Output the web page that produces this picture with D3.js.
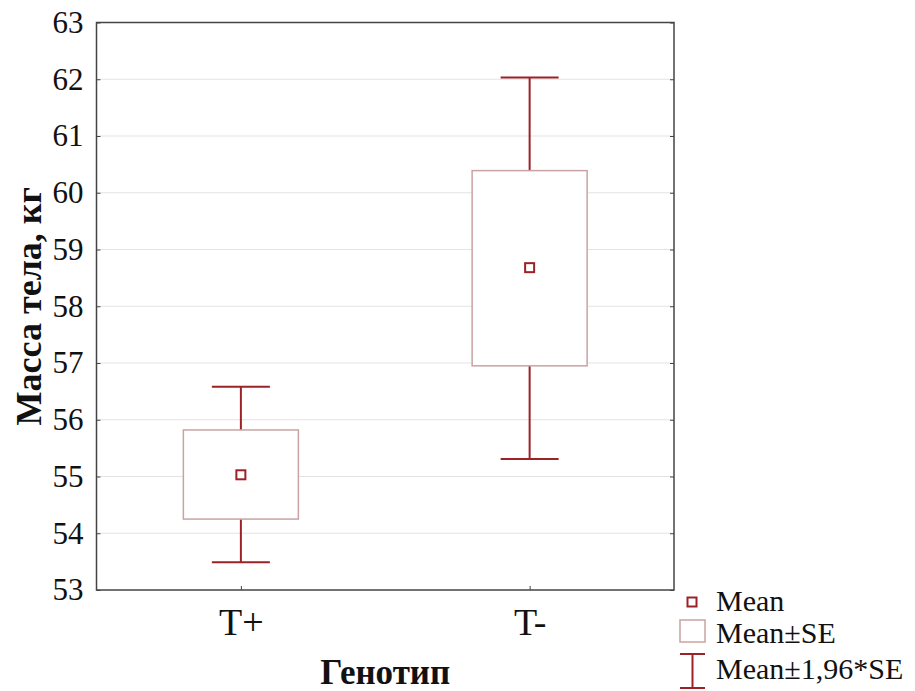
<!DOCTYPE html>
<html>
<head>
<meta charset="utf-8">
<title>Масса тела по генотипу</title>
<script src="https://cdnjs.cloudflare.com/ajax/libs/d3/7.8.5/d3.min.js"></script>
<style>
  html, body { margin: 0; padding: 0; background: #fff; }
  text { font-family: "Liberation Serif", "Times New Roman", serif; fill: #111; }
</style>
</head>
<body>
<div id="chart"></div>
<script>
// data
const groups = ["T+", "T-"];
const means = [55.03, 58.68];
const seLow = [54.25, 56.95];
const seHigh = [55.82, 60.39];
const ciLow = [53.49, 55.31];
const ciHigh = [56.58, 62.03];
const yTicks = [53, 54, 55, 56, 57, 58, 59, 60, 61, 62, 63];
const legendLabels = ["Mean", "Mean±SE", "Mean±1,96*SE"];

const W = 915, H = 691;
const plot = {left: 96.5, right: 674, top: 22.5, bottom: 590};
const dark = "#9b2226", boxStroke = "#c9a3a3", frame = "#444";

const svg = d3.select("#chart").append("svg")
  .attr("width", W).attr("height", H);

const x = d3.scalePoint().domain(groups)
  .range([plot.left, plot.right]).padding(0.5);
const y = d3.scaleLinear().domain([53, 63])
  .range([plot.bottom, plot.top]);

// grid lines
svg.append("g").selectAll("line")
  .data(yTicks.slice(1, -1))
  .join("line")
    .attr("x1", plot.left).attr("x2", plot.right)
    .attr("y1", d => y(d)).attr("y2", d => y(d))
    .attr("stroke", "#e3e3e3").attr("stroke-width", 1);

// left axis: inward ticks
const yAxis = svg.append("g")
  .attr("transform", `translate(${plot.left},0)`)
  .call(d3.axisLeft(y).tickValues(yTicks).tickSize(-4).tickPadding(13));
yAxis.select(".domain").remove();
yAxis.selectAll("line").attr("stroke", frame);
yAxis.selectAll("text").style("font-size", "31px").attr("fill", "#111")
  .attr("font-family", "Liberation Serif");

// right axis ticks
svg.append("g")
  .attr("transform", `translate(${plot.right},0)`)
  .call(d3.axisRight(y).tickValues(yTicks).tickSize(-4).tickFormat(""))
  .call(g => g.select(".domain").remove())
  .selectAll("line").attr("stroke", frame);

// bottom axis
const xAxis = svg.append("g")
  .attr("transform", `translate(0,${plot.bottom})`)
  .call(d3.axisBottom(x).tickSize(-4).tickPadding(18));
xAxis.select(".domain").remove();
xAxis.selectAll("line").attr("stroke", frame);
xAxis.selectAll("text").style("font-size", "38px").attr("fill", "#111")
  .attr("font-family", "Liberation Serif");

// frame
svg.append("rect")
  .attr("x", plot.left).attr("y", plot.top)
  .attr("width", plot.right - plot.left).attr("height", plot.bottom - plot.top)
  .attr("fill", "none").attr("stroke", frame).attr("stroke-width", 1.5);

const boxW = 115, capW = 58, markS = 9;
const g = svg.append("g").selectAll("g")
  .data(groups.map((k, i) => ({k, i})))
  .join("g");

// whiskers
g.append("line")
  .attr("x1", d => x(d.k)).attr("x2", d => x(d.k))
  .attr("y1", d => y(ciHigh[d.i])).attr("y2", d => y(ciLow[d.i]))
  .attr("stroke", dark).attr("stroke-width", 2);
g.selectAll(".cap")
  .data(d => [ciLow[d.i], ciHigh[d.i]].map(v => ({k: d.k, v})))
  .join("line")
    .attr("x1", d => x(d.k) - capW / 2).attr("x2", d => x(d.k) + capW / 2)
    .attr("y1", d => y(d.v)).attr("y2", d => y(d.v))
    .attr("stroke", dark).attr("stroke-width", 2);

// SE boxes
g.append("rect")
  .attr("x", d => x(d.k) - boxW / 2)
  .attr("y", d => y(seHigh[d.i]))
  .attr("width", boxW)
  .attr("height", d => y(seLow[d.i]) - y(seHigh[d.i]))
  .attr("fill", "#fff").attr("stroke", boxStroke).attr("stroke-width", 1.5);

// mean markers
g.append("rect")
  .attr("x", d => x(d.k) - markS / 2)
  .attr("y", d => y(means[d.i]) - markS / 2)
  .attr("width", markS).attr("height", markS)
  .attr("fill", "#fff").attr("stroke", dark).attr("stroke-width", 2);

// axis titles
svg.append("text")
  .attr("transform", `translate(41,${(plot.top + plot.bottom) / 2}) rotate(-90)`)
  .attr("text-anchor", "middle")
  .style("font-size", "36px").style("font-weight", "bold")
  .text("Масса тела, кг");
svg.append("text")
  .attr("x", (plot.left + plot.right) / 2).attr("y", 684)
  .attr("text-anchor", "middle")
  .style("font-size", "35px").style("font-weight", "bold")
  .text("Генотип");

// legend
const lg = svg.append("g");
lg.append("rect")
  .attr("x", 692 - markS / 2).attr("y", 602 - markS / 2)
  .attr("width", markS).attr("height", markS)
  .attr("fill", "#fff").attr("stroke", dark).attr("stroke-width", 2);
lg.append("rect")
  .attr("x", 680).attr("y", 620).attr("width", 25).attr("height", 22)
  .attr("fill", "#fff").attr("stroke", boxStroke).attr("stroke-width", 1.5);
lg.append("path")
  .attr("d", "M680,654H705M692.5,654V688M680,688H705")
  .attr("fill", "none").attr("stroke", dark).attr("stroke-width", 2);
lg.selectAll("text")
  .data(legendLabels)
  .join("text")
    .attr("x", 716)
    .attr("y", (d, i) => [611, 643, 679][i])
    .style("font-size", "30px")
    .text(d => d);
</script>
</body>
</html>
